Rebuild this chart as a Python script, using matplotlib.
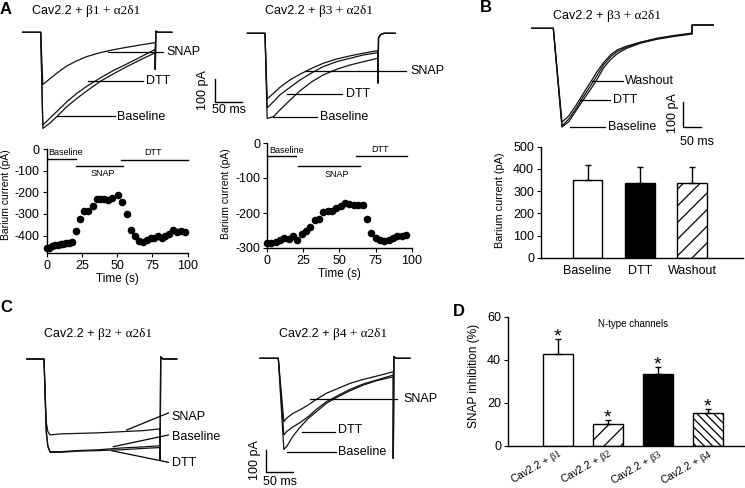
import matplotlib
matplotlib.use('Agg')
import matplotlib.pyplot as plt
from matplotlib.lines import Line2D
from matplotlib.transforms import Affine2D, ScaledTranslation

plt.rcParams['font.family'] = ['Liberation Sans', 'DejaVu Sans']
plt.rcParams['mathtext.fontset'] = 'custom'
plt.rcParams['mathtext.rm'] = 'Liberation Serif'
plt.rcParams['mathtext.it'] = 'Liberation Serif:italic'
plt.rcParams['mathtext.bf'] = 'Liberation Serif:bold'
plt.rcParams['axes.unicode_minus'] = False
plt.rcParams['hatch.linewidth'] = 0.9
plt.rcParams['axes.linewidth'] = 1.0

# ---- current traces (time in ms, current in pA) ----
a1_t = [-34, 0, 4, 17, 30, 49, 68, 87, 111, 136, 161, 186, 215, 215, 216, 220, 246]
a1_snap = [0, 0, -233, -208, -183, -150, -127, -108, -91, -78, -67, -57, -46, -165, 5, 0, 0]
a1_dtt = [0, 0, -414, -384, -354, -310, -272, -240, -205, -171, -142, -112, -76, -165, 5, 0, 0]
a1_base = [0, 0, -429, -406, -377, -332, -295, -261, -220, -186, -154, -124, -91, -165, 5, 0, 0]

a2_t = [-33, 0, 4, 16, 28, 47, 66, 88, 109, 134, 159, 184, 212, 212, 213, 217, 223, 244]
a2_snap = [0, 0, -293, -268, -241, -208, -182, -156, -134, -115, -101, -89, -77, -222, -20, -6, 0, 0]
a2_dtt = [0, 0, -333, -305, -275, -241, -208, -176, -149, -127, -112, -97, -86, -222, -20, -6, 0, 0]
a2_base = [0, 0, -380, -372, -342, -298, -256, -216, -186, -161, -142, -127, -111, -222, -20, -6, 0, 0]

b_t = [-62, 0, 25, 45, 65, 85, 105, 125, 145, 165, 185, 210, 250, 298, 346, 400, 400, 461]
b_base = [0, 0, -395, -373, -331, -289, -249, -207, -158, -125, -101, -81, -60, -44, -33, -23, 13, 13]
b_dtt = [0, 0, -391, -362, -322, -277, -235, -191, -146, -114, -92, -76, -57, -42, -31, -21, 13, 13]
b_wash = [0, 0, -375, -350, -309, -264, -221, -176, -137, -106, -86, -72, -56, -40, -29, -19, 13, 13]

c1_t = [-31, 0, 4, 7, 11, 30, 60, 100, 140, 180, 210, 210, 211, 215, 240]
c1_snap = [0, 0, -290, -335, -350, -345, -343, -340, -335, -330, -322, -465, 10, 0, 0]
c1_base = [0, 0, -330, -400, -427, -427, -422, -418, -410, -405, -400, -465, 10, 0, 0]
c1_dtt = [0, 0, -335, -405, -430, -430, -425, -422, -418, -412, -408, -465, 10, 0, 0]

c2_t = [-33, 0, 10, 15, 27, 39, 54, 69, 87, 106, 130, 154, 178, 208, 208, 209, 213, 238]
c2_snap = [0, 0, -292, -276, -253, -238, -215, -189, -161, -141, -115, -97, -82, -62, -461, 8, 0, 0]
c2_dtt = [0, 0, -353, -338, -315, -297, -269, -235, -200, -174, -143, -118, -100, -77, -461, 8, 0, 0]
c2_base = [0, 0, -420, -407, -357, -319, -277, -246, -207, -180, -149, -123, -103, -85, -461, 8, 0, 0]

# ---- time courses (panel A, bottom) ----
a1_time = [0, 1.9, 4.0, 5.9, 7.8, 9.9, 11.8, 13.7, 15.8, 17.7, 20.8, 23.6, 26.7, 29.6, 32.6,
           35.5, 37.8, 40.7, 43.7, 46.6, 50.4, 53.7, 56.7, 59.6, 62.4, 65.2, 68.1, 70.9,
           73.8, 76.1, 79.0, 81.8, 84.2, 86.8, 89.4, 92.2, 95.0, 98.1]
a1_curr = [-457, -455, -449, -443, -443, -440, -438, -435, -432, -428, -378, -323, -285, -285, -262,
           -232, -232, -232, -235, -228, -212, -243, -298, -372, -400, -425, -428, -420,
           -412, -412, -403, -411, -400, -392, -372, -385, -380, -382]
a2_time = [0, 3, 6, 9, 12, 15, 18, 21, 24, 27, 30, 33, 36, 39, 42, 45, 48, 51, 54, 57,
           60, 63, 66, 69, 72, 75, 78, 81, 84, 87, 90, 93, 96]
a2_curr = [-285, -285, -283, -277, -271, -274, -267, -276, -260, -251, -239, -220, -217, -198, -195,
           -193, -186, -180, -170, -174, -178, -177, -177, -218, -258, -270, -276, -280, -276,
           -270, -267, -265, -262]
periods = ['Baseline', 'SNAP', 'DTT']
a1_spans = [(0, 21), (21, 54), (53, 100)]
a1_levels = [-46, -78, -51]
a2_spans = [(0, 20), (21.5, 64), (61.5, 96.5)]
a2_levels = [-38, -66, -38]

# ---- bar charts ----
b_cats = ['Baseline', 'DTT', 'Washout']
b_mean = [350, 338, 338]
b_err = [70, 70, 70]

d_labels = [r'Cav2.2 + $\mathrm{\beta 1}$', r'Cav2.2 + $\mathrm{\beta 2}$',
            r'Cav2.2 + $\mathrm{\beta 3}$', r'Cav2.2 + $\mathrm{\beta 4}$']
d_mean = [42.6, 10.1, 33.2, 15.2]
d_err = [7.0, 1.9, 3.4, 1.8]

W, H = 745, 488
fig = plt.figure(figsize=(7.45, 4.88), dpi=100)
PX = Affine2D().scale(1 / W, -1 / H).translate(0, 1) + fig.transFigure
overlay = fig.add_axes([0, 0, 1, 1])
overlay.axis('off')


def px_axes(left, top, right, bottom):
    return fig.add_axes([left / W, 1 - bottom / H, (right - left) / W, (bottom - top) / H])


def trace_axes(left, top, right, bottom, t0, i0, px_ms, px_pa):
    ax = px_axes(left, top, right, bottom)
    ax.set_xlim((left - t0) / px_ms, (right - t0) / px_ms)
    ax.set_ylim((i0 - bottom) / px_pa, (i0 - top) / px_pa)
    ax.axis('off')
    return ax


def px_text(x, y, s, **kw):
    kw.setdefault('va', 'center')
    kw.setdefault('fontsize', 9)
    return fig.text(x, y, s, transform=PX, **kw)


def pointer(x0, y0, x1, y1):
    fig.add_artist(Line2D([x0, x1], [y0, y1], transform=PX, color='k', lw=0.9))


def scale_bar(ax, x, y):
    t, i = (PX + ax.transData.inverted()).transform((x, y))
    ax.plot([t, t, t + 50], [i + 100, i, i], color='k', lw=1.0, clip_on=False)


def title(x, y, beta):
    # sans part, then the greek part in a Times-like face right after it
    t1 = px_text(x, y, 'Cav2.2 +', fontsize=9, va='baseline')
    overlay.annotate('\u03b2%d + \u03b12\u03b41' % beta, xy=(1, 0), xycoords=t1,
                     xytext=(2.6, 0), textcoords='offset points', va='bottom',
                     fontsize=9.5, family='Liberation Serif')


def traces(ax, t, *ys):
    for y in ys:
        ax.plot(t, y, color='#111111', lw=0.9, clip_on=False)


# panel letters
for s, x, y in [('A', 0, 10), ('B', 480, 8), ('C', 0, 308), ('D', 453, 311)]:
    px_text(x, y, s, fontsize=12, fontweight='bold')

# ---- A traces ----
ax = trace_axes(18, 20, 250, 135, 40.7, 32.3, 0.533, 0.224)
traces(ax, a1_t, a1_snap, a1_dtt, a1_base)
scale_bar(ax, 215, 101.7)
px_text(202.7, 90, '100 pA', rotation=90, ha='center')
px_text(229, 110, '50 ms', ha='center')
title(32, 14, 1)
pointer(108, 52.3, 163, 52.3); px_text(166, 52.3, 'SNAP')
pointer(88, 80.5, 143, 80.5); px_text(145.7, 81.5, 'DTT')
pointer(57, 116, 115, 116); px_text(117, 116.7, 'Baseline')

ax = trace_axes(244, 20, 400, 135, 265, 33.3, 0.533, 0.224)
traces(ax, a2_t, a2_snap, a2_dtt, a2_base)
title(265, 14, 3)
pointer(305, 71, 406, 71); px_text(410, 71, 'SNAP')
pointer(286.7, 94.3, 342, 94.3); px_text(346, 94.3, 'DTT')
pointer(273, 117.3, 317, 117.3); px_text(320, 117.3, 'Baseline')

# ---- B trace ----
ax = trace_axes(528, 20, 720, 135, 553.3, 28.3, 0.347, 0.25)
traces(ax, b_t, b_wash, b_dtt, b_base)
scale_bar(ax, 683.3, 126.7)
px_text(673.3, 113, '100 pA', rotation=90, ha='center')
px_text(697.5, 141.7, '50 ms', ha='center')
title(553.3, 19, 3)
pointer(591.7, 81, 623, 81); px_text(625, 81, 'Washout')
pointer(580, 100, 610, 100); px_text(613.3, 100, 'DTT')
pointer(570, 126.7, 605, 126.7); px_text(608.3, 126.7, 'Baseline')

# ---- C traces ----
ax = trace_axes(20, 340, 185, 470, 44, 359, 0.553, 0.217)
traces(ax, c1_t, c1_snap, c1_base, c1_dtt)
title(44.3, 337.3, 2)
pointer(126.7, 430, 168.3, 413); px_text(171.7, 416.7, 'SNAP')
pointer(113.3, 446.7, 168.3, 435); px_text(171.7, 436.7, 'Baseline')
pointer(111.7, 450.7, 168.3, 462.3); px_text(171.7, 463.3, 'DTT')

ax = trace_axes(250, 340, 420, 475, 278.3, 358.3, 0.553, 0.217)
traces(ax, c2_t, c2_snap, c2_dtt, c2_base)
scale_bar(ax, 265.7, 471.7)
px_text(255, 460, '100 pA', rotation=90, ha='center')
px_text(280, 481.7, '50 ms', ha='center')
title(279.3, 337.3, 4)
pointer(310, 399.3, 397, 399.3); px_text(403.3, 399.3, 'SNAP')
pointer(301.7, 432, 335, 432); px_text(338.3, 430, 'DTT')
pointer(286.7, 451.7, 336, 451.7); px_text(338.3, 451.7, 'Baseline')


# ---- A time courses ----
def time_course(rect, ylim, yticks, t, cur, spans, levels, lab_pos, lx, ly):
    ax = px_axes(*rect)
    ax.scatter(t, cur, s=30, color='k', zorder=3, clip_on=False, linewidths=0)
    ax.set_xlim(0, 100)
    ax.set_ylim(*ylim)
    ax.set_xticks([0, 25, 50, 75, 100])
    ax.set_yticks(yticks)
    for sp in ['top', 'right']:
        ax.spines[sp].set_visible(False)
    ax.tick_params(direction='out', length=3, width=0.8, labelsize=9, pad=2)
    ax.set_xlabel('Time (s)', fontsize=8.5, labelpad=1)
    ax.set_ylabel('Barium current (pA)', fontsize=7.5)
    ax.yaxis.set_label_coords(lx, ly)
    for name, (s0, s1), lev, (tx, ty, ha) in zip(periods, spans, levels, lab_pos):
        ax.plot([s0, s1], [lev, lev], color='k', lw=1.0, clip_on=False)
        ax.text(tx, ty, name, fontsize=6.5, ha=ha, va='center')
    return ax


time_course((46.7, 149, 187.7, 253), (-480, 0), [0, -100, -200, -300, -400],
            a1_time, a1_curr, a1_spans, a1_levels,
            [(1, -14, 'left'), (40, -115, 'center'), (75.5, -16, 'center')], -0.25, 0.56)
time_course((267, 143, 411.7, 248), (-300, 0), [0, -100, -200, -300],
            a2_time, a2_curr, a2_spans, a2_levels,
            [(1.5, -22, 'left'), (48, -89, 'center'), (78, -19, 'center')], -0.25, 0.52)

# ---- B bars ----
ax = px_axes(541, 146.7, 743, 258)
xb = range(len(b_cats))
bars = ax.bar(xb, b_mean, width=0.57, color=['white', 'black', 'white'],
              edgecolor='k', linewidth=1.0)
bars[2].set_hatch('//')
ax.errorbar(xb, b_mean, yerr=[[0] * 3, b_err], fmt='none', ecolor='k', elinewidth=1,
            capsize=2.5, capthick=1)
ax.set_xlim(-0.89, 2.97)
ax.set_ylim(0, 500)
ax.set_yticks(range(0, 501, 100))
ax.set_xticks(list(xb))
ax.set_xticklabels(b_cats)
for sp in ['top', 'right']:
    ax.spines[sp].set_visible(False)
ax.tick_params(axis='y', direction='out', length=3, width=0.8, labelsize=9, pad=2)
ax.tick_params(axis='x', length=0, labelsize=9, pad=5)
ax.set_ylabel('Barium current (pA)', fontsize=7.8)
ax.yaxis.set_label_coords(-0.18, 0.52)

# ---- D bars ----
ax = px_axes(508, 316.7, 745, 446)
xd = range(len(d_labels))
bars = ax.bar(xd, d_mean, width=0.6, color=['white', 'white', 'black', 'white'],
              edgecolor='k', linewidth=1.0)
bars[1].set_hatch('//')
bars[3].set_hatch('\\\\\\\\')
ax.errorbar(xd, d_mean, yerr=[[0] * 4, d_err], fmt='none', ecolor='k', elinewidth=1,
            capsize=2.5, capthick=1)
for x, m, e in zip(xd, d_mean, d_err):
    ax.text(x, m + e - 1.2, '*', ha='center', va='baseline', fontsize=14)
ax.text(1.5, 56.5, 'N-type channels', ha='center', va='center', fontsize=7)
ax.set_xlim(-1.0, 3.75)
ax.set_ylim(0, 60)
ax.set_yticks([0, 20, 40, 60])
ax.set_xticks(list(xd))
ax.set_xticklabels(d_labels, rotation=30, ha='right', rotation_mode='anchor', fontsize=7.6)
shift = ScaledTranslation(7 / 100, 2 / 100, fig.dpi_scale_trans)
for lab in ax.get_xticklabels():
    lab.set_transform(lab.get_transform() + shift)
for sp in ['top', 'right']:
    ax.spines[sp].set_visible(False)
ax.tick_params(axis='y', direction='out', length=3, width=0.8, labelsize=9, pad=2)
ax.tick_params(axis='x', length=0, pad=0.5)
ax.set_ylabel('SNAP inhibition (%)', fontsize=8.6)
ax.yaxis.set_label_coords(-0.118, 0.54)

fig.savefig('out.png', dpi=100)
